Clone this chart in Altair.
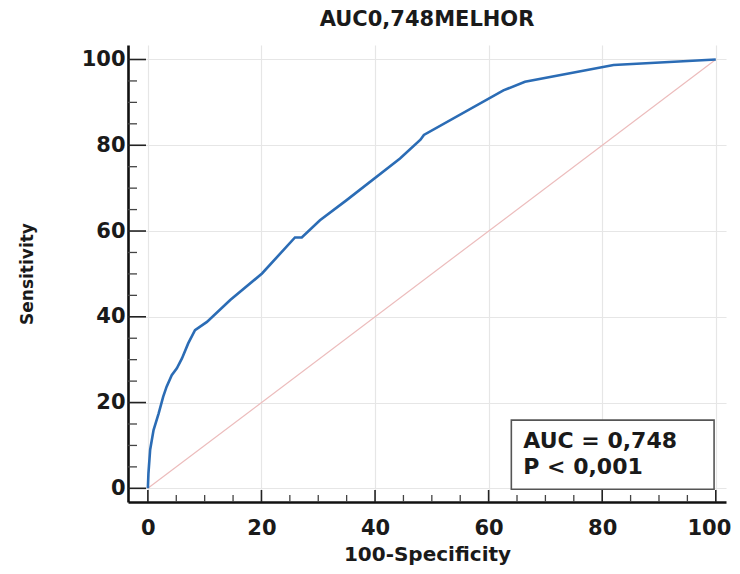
import altair as alt
import pandas as pd

# ROC curve (100-Specificity, Sensitivity)
fpr = [0, 0.1, 0.4, 1.0, 1.9, 2.7, 3.3, 4.2, 5.1, 6.0, 7.1, 8.3, 10.4, 14.5,
       20.1, 25.9, 27.1, 30.3, 35.0, 44.4, 48.0, 48.6, 62.6, 66.4, 82.0, 100]
tpr = [0, 3.5, 9.0, 13.6, 17.5, 21.4, 23.7, 26.4, 28.0, 30.3, 33.8, 36.9, 38.8, 43.9,
       50.1, 58.5, 58.5, 62.5, 67.2, 76.9, 81.3, 82.4, 92.8, 94.8, 98.7, 100]

ref_x = [0, 100]
ref_y = [0, 100]

major_ticks = [0, 20, 40, 60, 80, 100]
minor_ticks = [5, 10, 15, 25, 30, 35, 45, 50, 55, 65, 70, 75, 85, 90, 95]

title_text = "AUC0,748MELHOR"
x_title = "100-Specificity"
y_title = "Sensitivity"
box_text = "AUC = 0,748\nP < 0,001"
box_x = [64.0, 99.7]
box_y = [-0.2, 15.9]
box_text_y = 9.4

FONT = "DejaVu Sans"
W, H = 598, 457
XDOM = [-3.5, 101.8]
YDOM = [-3.19, 103.38]

roc = pd.DataFrame({"x": fpr, "y": tpr, "i": range(len(fpr))})
ref = pd.DataFrame({"x": ref_x, "y": ref_y})
maj = pd.DataFrame({"v": major_ticks})
mnr = pd.DataFrame({"v": minor_ticks})
box = pd.DataFrame({"x": [box_x[0]], "x2": [box_x[1]], "y": [box_y[0]], "y2": [box_y[1]]})

xs = alt.Scale(domain=XDOM, nice=False, zero=False)
ys = alt.Scale(domain=YDOM, nice=False, zero=False)

x_axis = alt.Axis(values=major_ticks, tickSize=0, labelPadding=15, title=x_title,
                  titlePadding=6, titleFontSize=20, grid=True,
                  labelFlush=15, labelFlushOffset=15)
y_axis = alt.Axis(values=major_ticks, tickSize=0, labelPadding=3, title=y_title,
                  titlePadding=45, grid=True, titleFontSize=17)

diag = alt.Chart(ref).mark_line(color="#ecbcbc", strokeWidth=1.2).encode(
    x=alt.X("x:Q", scale=xs, axis=x_axis),
    y=alt.Y("y:Q", scale=ys, axis=y_axis),
)

curve = alt.Chart(roc).mark_line(color="#2b6cb5", strokeWidth=2.6).encode(
    x="x:Q", y="y:Q", order="i:Q"
)

ytick_major = alt.Chart(maj).mark_rule(color="#222", strokeWidth=1.6).encode(
    y="v:Q", x=alt.value(0), x2=alt.value(18))
ytick_minor = alt.Chart(mnr).mark_rule(color="#444", strokeWidth=1.3).encode(
    y="v:Q", x=alt.value(0), x2=alt.value(9))
xtick_major = alt.Chart(maj).mark_rule(color="#222", strokeWidth=1.6).encode(
    x="v:Q", y=alt.value(H), y2=alt.value(H - 12))
xtick_minor = alt.Chart(mnr).mark_rule(color="#444", strokeWidth=1.3).encode(
    x="v:Q", y=alt.value(H), y2=alt.value(H - 7))

boxmark = alt.Chart(box).mark_rect(fill="white", stroke="#555", strokeWidth=1.6).encode(
    x="x:Q", x2="x2:Q", y="y:Q", y2="y2:Q")

boxtext = alt.Chart(box).mark_text(
    align="left", baseline="alphabetic", font=FONT, fontWeight="bold", fontSize=22,
    color="#1a1a1a", dx=12, lineBreak="\n", lineHeight=26
).encode(
    x=alt.datum(box_x[0]),
    y=alt.datum(box_text_y),
    text=alt.value(box_text),
)

chart = alt.layer(
    diag, curve, ytick_major, ytick_minor, xtick_major, xtick_minor, boxmark, boxtext
).properties(
    width=W, height=H,
    title=alt.Title(title_text, font=FONT, fontSize=21, fontWeight="bold",
                    anchor="middle", offset=15, color="#1a1a1a"),
    autosize=alt.AutoSizeParams(type="none"),
    padding={"left": 120, "top": 37, "right": 6, "bottom": 64},
).configure_view(stroke=None).configure_axis(
    labelFont=FONT, labelFontSize=21, labelFontWeight="bold", labelColor="#1a1a1a",
    titleFont=FONT, titleFontSize=21, titleFontWeight="bold", titleColor="#1a1a1a",
    domainColor="#111", domainWidth=2.6, gridColor="#e6e6e6", gridWidth=1.2,
)

chart.save("out.html", embed_options={"renderer": "svg", "actions": False})
